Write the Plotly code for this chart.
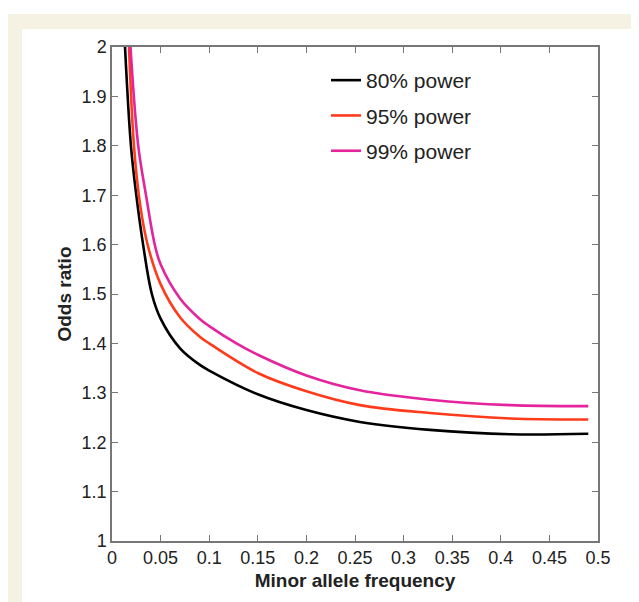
import plotly.graph_objects as go

# Data
maf_80 = [0.0134, 0.0195, 0.025, 0.032, 0.041, 0.05, 0.07, 0.09, 0.1, 0.15, 0.2, 0.255, 0.327, 0.41, 0.49]
or_80 = [2.0, 1.8, 1.7, 1.6, 1.5, 1.45, 1.39, 1.357, 1.345, 1.297, 1.265, 1.241, 1.225, 1.216, 1.217]

maf_95 = [0.0175, 0.0226, 0.029, 0.037, 0.05, 0.07, 0.09, 0.1, 0.15, 0.2, 0.255, 0.327, 0.41, 0.49]
or_95 = [2.0, 1.8, 1.68, 1.597, 1.52, 1.453, 1.414, 1.40, 1.34, 1.303, 1.275, 1.259, 1.248, 1.246]

maf_99 = [0.019, 0.027, 0.035, 0.044, 0.05, 0.07, 0.09, 0.1, 0.128, 0.15, 0.2, 0.255, 0.327, 0.41, 0.49]
or_99 = [2.0, 1.8, 1.7, 1.6, 1.56, 1.491, 1.45, 1.435, 1.40, 1.377, 1.335, 1.305, 1.286, 1.275, 1.273]

series_names = ["80% power", "95% power", "99% power"]
series_colors = ["#000000", "#ff3b1c", "#e4239c"]

x_ticks = [0, 0.05, 0.1, 0.15, 0.2, 0.25, 0.3, 0.35, 0.4, 0.45, 0.5]
y_ticks = [1, 1.1, 1.2, 1.3, 1.4, 1.5, 1.6, 1.7, 1.8, 1.9, 2]

W, H = 639, 602
L, R, T, B = 104, 49, 39, 69
pw, ph = W - L - R, H - T - B

def px_x(p):
    return (p - L) / pw

def px_y(p):
    return (H - B - p) / ph

fig = go.Figure()
for xs, ys, name, col in zip([maf_80, maf_95, maf_99], [or_80, or_95, or_99], series_names, series_colors):
    fig.add_trace(go.Scatter(x=xs, y=ys, mode="lines", name=name, legendgroup=name,
                             line=dict(color=col, width=2.6, shape="spline", smoothing=1.0)))

font_family = "Liberation Sans, Arial, sans-serif"

fig.update_layout(
    width=W, height=H,
    margin=dict(l=L, r=R, t=T, b=B),
    paper_bgcolor="white",
    plot_bgcolor="rgba(0,0,0,0)",
    font=dict(family=font_family, size=18, color="#222"),
    showlegend=True,
    legend=dict(x=px_x(318), y=px_y(52), xanchor="left", yanchor="top",
                bgcolor="rgba(0,0,0,0)", font=dict(size=21, color="#222"),
                itemwidth=30, tracegroupgap=5),
    shapes=[
        dict(type="rect", xref="paper", yref="paper", layer="below",
             x0=px_x(0), x1=px_x(W + 5), y0=px_y(H + 5), y1=px_y(6),
             fillcolor="#f5f1e3", line=dict(width=0)),
        dict(type="rect", xref="paper", yref="paper", layer="below",
             x0=px_x(14), x1=px_x(W + 5), y0=px_y(H + 5), y1=px_y(21),
             fillcolor="white", line=dict(width=0)),
    ],
)

fig.update_xaxes(range=[0, 0.5], tickvals=x_ticks, ticktext=[f"{v:g}" for v in x_ticks],
                 ticks="inside", ticklen=6, tickcolor="#777", showline=True, linecolor="#777",
                 linewidth=1.5, mirror="ticks", showgrid=False, zeroline=False,
                 tickfont=dict(size=18, color="#222"),
                 title=dict(text="<b>Minor allele frequency</b>", font=dict(size=19, color="#222"), standoff=6))
fig.update_yaxes(range=[1, 2], tickvals=y_ticks, ticktext=[f"{v:g}" for v in y_ticks],
                 ticks="inside", ticklen=6, tickcolor="#777", showline=True, linecolor="#777",
                 linewidth=1.5, mirror="ticks", showgrid=False, zeroline=False,
                 tickfont=dict(size=18, color="#222"),
                 title=dict(text="<b>Odds ratio</b>", font=dict(size=19, color="#222"), standoff=5))

fig.write_html("out.html")
